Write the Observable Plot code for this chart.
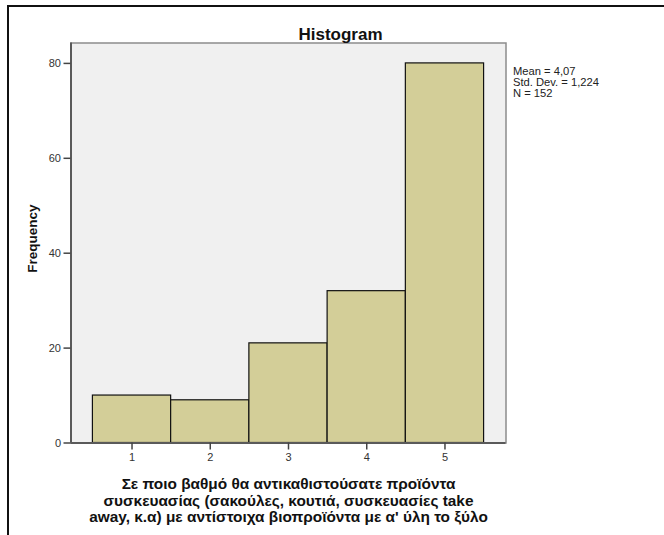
<!DOCTYPE html>
<html><head><meta charset="utf-8">
<script src="https://cdn.jsdelivr.net/npm/d3@7"></script>
<script src="https://cdn.jsdelivr.net/npm/@observablehq/plot@0.6"></script>
<style>
body{margin:0;background:#fff;}
#wrap{position:relative;width:664px;height:535px;overflow:hidden;background:#fff;}
#border{position:absolute;left:7px;top:5px;width:700px;height:600px;border-top:2px solid #111;border-left:2px solid #111;}
#chart{position:absolute;left:0;top:0;}
</style></head><body>
<div id="wrap"><div id="border"></div><div id="chart"></div></div>
<script>
const categories = [1, 2, 3, 4, 5];
const counts = [10, 9, 21, 32, 80];
const yTicks = [0, 20, 40, 60, 80];
const xTicks = [1, 2, 3, 4, 5];
const statsLines = ["Mean = 4,07", "Std. Dev. = 1,224", "N = 152"];
const titleText = "Histogram";
const yLabel = "Frequency";
const xLabelLines = [
  "Σε ποιο βαθμό θα αντικαθιστούσατε προϊόντα",
  "συσκευασίας (σακούλες, κουτιά, συσκευασίες take",
  "away, κ.α) με αντίστοιχα βιοπροϊόντα με α' ύλη το ξύλο"
];

const data = categories.map((c, i) => ({c, n: counts[i]}));
const font = "'Liberation Sans', Arial, sans-serif";

const plot = Plot.plot({
  width: 664, height: 535,
  marginLeft: 70.5, marginRight: 158.5, marginTop: 42.5, marginBottom: 92.5,
  style: {fontFamily: font, background: "transparent", color: "#222"},
  x: {domain: [0.22, 5.78]},
  y: {domain: [0, 84.3]},
  marks: [
    Plot.frame({fill: "#f0f0f0", stroke: "#8c8c8c", strokeWidth: 1.5}),
    Plot.rectY(data, {x1: d => d.c - 0.5, x2: d => d.c + 0.5, y: "n", fill: "#d3ce98", stroke: "#111", strokeWidth: 1.2}),
    Plot.ruleX([0.22], {stroke: "#5a5a5a", strokeWidth: 2}),
    Plot.ruleY([0], {stroke: "#5a5a5a", strokeWidth: 2}),
    Plot.axisY(yTicks, {tickSize: 7, tickPadding: 3, label: null, fontSize: 11, stroke: "#444", strokeWidth: 1.5, fill: "#333", tickFormat: d => d}),
    Plot.axisX(xTicks, {tickSize: 7, tickPadding: 3, label: null, fontSize: 11, stroke: "#444", strokeWidth: 1.5, fill: "#333", tickFormat: d => d}),
    Plot.text([titleText], {frameAnchor: "top", dx: 52, dy: -15, fontSize: 17, fontWeight: "bold", fill: "#111"}),
    Plot.text([yLabel], {frameAnchor: "left", textAnchor: "middle", rotate: -90, dx: -38.5, dy: -4.5, fontSize: 13.5, fontWeight: "bold", fill: "#111"}),
    Plot.text([statsLines.join("\n")], {frameAnchor: "top-right", textAnchor: "start", lineAnchor: "top", dx: 7, dy: 24, fontSize: 11.2, lineHeight: 0.98, fill: "#222"}),
    Plot.text([xLabelLines.join("\n")], {frameAnchor: "bottom", textAnchor: "middle", lineAnchor: "top", dy: 35, fontSize: 15.4, fontWeight: "bold", lineHeight: 1.05, fill: "#111"})
  ]
});
document.getElementById("chart").appendChild(plot);
</script>
</body></html>
